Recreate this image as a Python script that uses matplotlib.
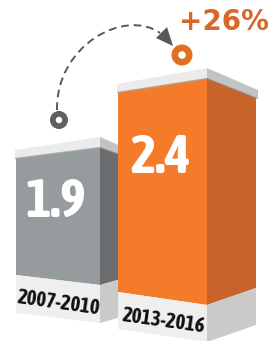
import matplotlib.pyplot as plt
from matplotlib.patches import Polygon, Circle, PathPatch
from matplotlib.path import Path

# Data
periods = ["2007-2010", "2013-2016"]
values = [1.9, 2.4]
change_label = "+26%"

# colours for each bar: front, side
front_colors = ["#969C9D", "#F47B2A"]
side_colors = ["#6B6C6E", "#C8632A"]
ring_colors = ["#5F6062", "#E0701F"]

# pixel geometry of each 3D block (x0 front left, x1 front right, x2 side right)
geo = [
    dict(x0=16, x1=100, x2=121, dtop=11, sdrop=8, bot0=275, bdrop=10, brise=6, box=38, txt=59),
    dict(x0=118, x1=207, x2=256, dtop=14, sdrop=20, bot0=292, bdrop=13, brise=17, box=37, txt=81),
]

BASE, SCALE = 408.8, 132.0  # value -> pixel y of the bar top

fig = plt.figure(figsize=(2.71, 3.41), dpi=100)
ax = fig.add_axes([0, 0, 1, 1])
ax.set_xlim(0, 271)
ax.set_ylim(341, 0)
ax.axis("off")

label_font = ["Asap Condensed", "DejaVu Sans"]

for i, (per, v) in enumerate(zip(periods, values)):
    g = geo[i]
    x0, x1, x2 = g["x0"], g["x1"], g["x2"]
    top = BASE - SCALE * v
    top1 = top - g["dtop"]
    top2 = top1 + g["sdrop"]
    b0 = g["bot0"]
    b1 = b0 + g["bdrop"]
    b2 = b1 - g["brise"]

    # front and side faces
    ax.add_patch(Polygon([(x0, top), (x1, top1), (x1, b1), (x0, b0)],
                         closed=True, fc=front_colors[i], ec="none", zorder=2 + 3 * i))
    ax.add_patch(Polygon([(x1, top1), (x2, top2), (x2, b2), (x1, b1)],
                         closed=True, fc=side_colors[i], ec="none", zorder=2 + 3 * i))
    # cap
    ax.add_patch(Polygon([(x0 - 1, top - 8), (x1, top1 - 10), (x1, top1), (x0 - 1, top)],
                         closed=True, fc="#EBEBEB", ec="none", zorder=3 + 3 * i))
    ax.add_patch(Polygon([(x1, top1 - 10), (x2 + 2, top2 - 8), (x2 + 2, top2), (x1, top1)],
                         closed=True, fc="#C3C3C3", ec="none", zorder=3 + 3 * i))
    ax.plot([x0 - 1, x1], [top + 0.5, top1 + 0.5], color="#A7ACAE", lw=0.8,
            zorder=3 + 3 * i, solid_capstyle="butt")
    ax.plot([x1, x2 + 2], [top1 + 0.5, top2 + 0.5], color="#8E9092", lw=0.8,
            zorder=3 + 3 * i, solid_capstyle="butt")

    # label box
    h = g["box"]
    ax.add_patch(Polygon([(x0, b0), (x1, b1), (x1, b1 + h), (x0, b0 + h)],
                         closed=True, fc="#EFEFEF", ec="none", zorder=4 + 3 * i))
    ax.add_patch(Polygon([(x1, b1), (x2, b2), (x2, b2 + h), (x1, b1 + h)],
                         closed=True, fc="#CACACA", ec="none", zorder=4 + 3 * i))
    ax.text((x0 + x1) / 2 + 1, (b0 + b1) / 2 + h / 2 + 4, per, rotation=-8,
            rotation_mode="anchor", ha="center", va="center", fontsize=15,
            fontweight="bold", family=label_font, color="#111111", zorder=5 + 3 * i)

    # value text
    ax.text((x0 + x1) / 2 - 2, top + g["txt"], f"{v}",
            ha="center", va="baseline", fontsize=39, fontweight="bold",
            family=label_font, color="white", zorder=5 + 3 * i)

# rings
ring_pos = [(59, 120, 9), (182, 55, 10.5)]
for (cx, cy, r), c in zip(ring_pos, ring_colors):
    ax.add_patch(Circle((cx, cy), r, fc=c, ec="none", zorder=10))
    ax.add_patch(Circle((cx, cy), r * 0.36, fc="white", ec="none", zorder=11))

# dashed arc with arrow head
arc = Path([(57, 110), (56, 45), (125, 8), (160, 33)],
           [Path.MOVETO, Path.CURVE4, Path.CURVE4, Path.CURVE4])
ax.add_patch(PathPatch(arc, fc="none", ec="#58595B", lw=1.4,
                       linestyle=(0, (4, 2.5)), zorder=9))
ax.add_patch(Polygon([(156, 38), (167, 27), (173, 46)], closed=True,
                     fc="#58595B", ec="none", zorder=9))

ax.text(224, 22, change_label, ha="center", va="center", fontsize=20,
        fontweight="bold", color="#D9672A", zorder=10)

fig.savefig("out.png", dpi=100)
